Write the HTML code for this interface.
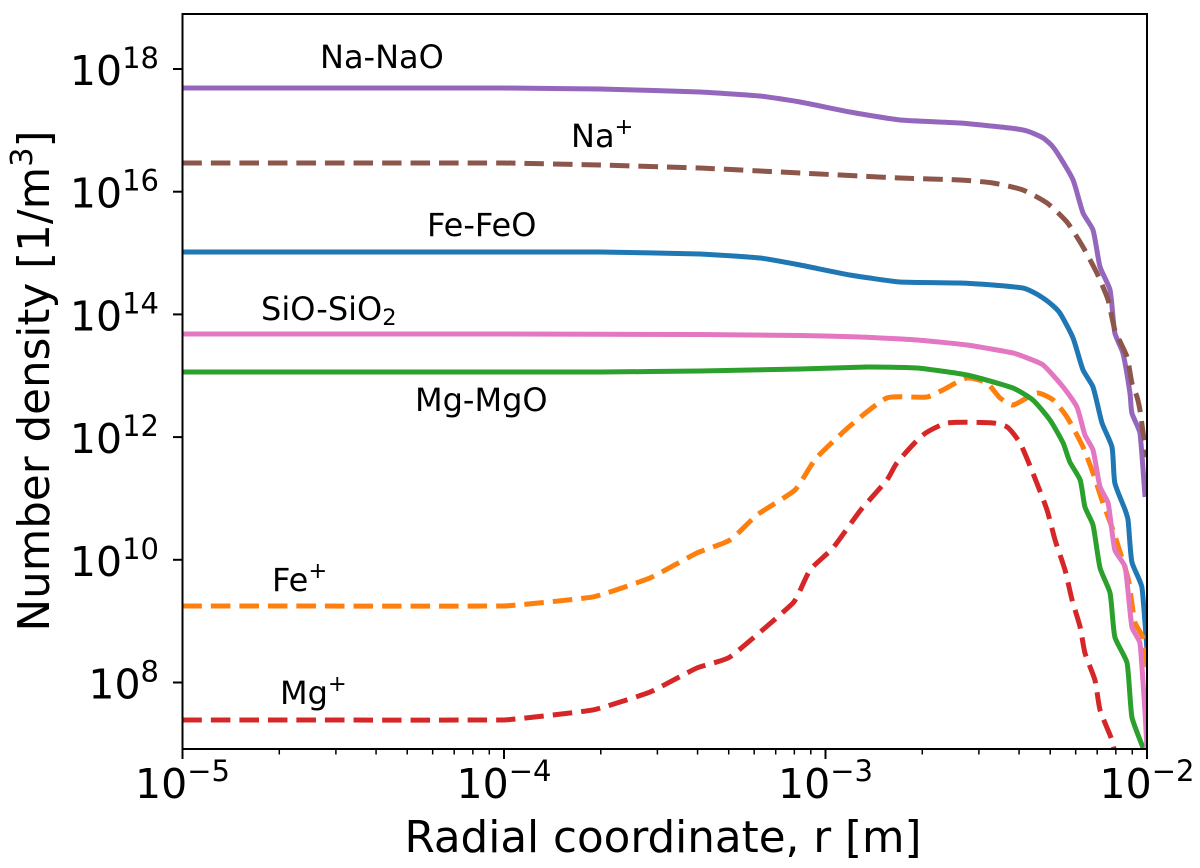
<!DOCTYPE html>
<html lang="en">
<head>
<meta charset="utf-8">
<title>Number density vs radial coordinate</title>
<style>
html,body{margin:0;padding:0;background:#fff;}
body{width:1200px;height:868px;overflow:hidden;}
svg{display:block;}
text{font-family:"DejaVu Sans","Liberation Sans",sans-serif;fill:#000;}
</style>
</head>
<body>
<svg id="chart" xmlns="http://www.w3.org/2000/svg" width="1200" height="868" viewBox="0 0 1200 868">
  <defs><clipPath id="plot-clip"><rect x="182.5" y="14" width="964.5" height="735"/></clipPath></defs>
  <rect x="182.5" y="14" width="964.5" height="735" fill="#fff"/>
  <g id="series" clip-path="url(#plot-clip)"></g>
  <rect x="182.5" y="14" width="964.5" height="735" fill="none" stroke="#000" stroke-width="2"/>
  <g id="ticks"></g>

  <text x="663" y="852" font-size="43.6" text-anchor="middle">Radial coordinate, r [m]</text>
  <text transform="translate(49,381) rotate(-90)" font-size="43.6" text-anchor="middle">Number density [1/m<tspan font-size="30.5" dy="-17">3</tspan><tspan dy="17">]</tspan></text>

  <text x="320" y="68" font-size="32">Na-NaO</text>
  <text x="571" y="147" font-size="32">Na<tspan font-size="22.5" dy="-13">+</tspan></text>
  <text x="427" y="236" font-size="32">Fe-FeO</text>
  <text x="261" y="320" font-size="32">SiO-SiO<tspan font-size="22.5" dy="5">2</tspan></text>
  <text x="415" y="411" font-size="32">Mg-MgO</text>
  <text x="272" y="591" font-size="32">Fe<tspan font-size="22.5" dy="-13">+</tspan></text>
  <text x="280" y="704" font-size="32">Mg<tspan font-size="22.5" dy="-13">+</tspan></text>
</svg>
<script>
// All values are log10: radius r in metres, number density in 1/m^3.
const xTickExponents = [-5, -4, -3, -2];
const xTickLabels = ['\u22125', '\u22124', '\u22123', '\u22122'];
const yTickExponents = [18, 16, 14, 12, 10, 8];
const yTickLabels = ['18', '16', '14', '12', '10', '8'];

const feFeoR = [-5,-4,-3.701,-3.39,-3.204,-3.079,-2.924,-2.768,-2.582,-2.479,-2.386,-2.355,-2.323,-2.295,-2.271,-2.23,-2.199,-2.168,-2.14,-2.109,-2.1,-2.068,-2.059,-2.047,-2.016,-2];
const feFeoN = [15.017,15.017,15.017,14.985,14.919,14.805,14.642,14.528,14.512,14.479,14.43,14.365,14.267,14.153,14.023,13.615,13.094,12.817,12.23,11.839,11.252,10.812,10.649,9.964,9.557,8.53];

const fePlusR = [-5,-4,-3.723,-3.546,-3.4,-3.297,-3.213,-3.095,-3.048,-3.026,-2.924,-2.809,-2.684,-2.635,-2.56,-2.498,-2.457,-2.417,-2.342,-2.292,-2.249,-2.199,-2.168,-2.137,-2.106,-2.059,-2.044,-2.037,-2.012,-2];
const fePlusN = [9.247,9.247,9.394,9.704,10.111,10.323,10.73,11.138,11.513,11.676,12.181,12.637,12.654,12.768,12.963,12.882,12.637,12.523,12.719,12.605,12.328,11.839,11.415,10.926,10.486,9.703,9.182,8.97,8.725,8.253];

const mgMgoR = [-5,-4,-3.701,-3.39,-3.079,-2.871,-2.715,-2.56,-2.417,-2.355,-2.302,-2.261,-2.24,-2.208,-2.193,-2.168,-2.146,-2.115,-2.1,-2.062,-2.047,-2.012];
const mgMgoN = [13.061,13.061,13.061,13.077,13.11,13.143,13.126,13.012,12.8,12.605,12.279,11.904,11.594,11.301,10.861,10.567,9.866,9.459,8.742,8.318,7.438,6.932];

const mgPlusR = [-5,-4,-3.723,-3.546,-3.4,-3.297,-3.101,-3.048,-2.977,-2.893,-2.809,-2.778,-2.697,-2.622,-2.479,-2.435,-2.395,-2.355,-2.311,-2.286,-2.255,-2.233,-2.208,-2.193,-2.162,-2.146,-2.109,-2.1];
const mgPlusN = [7.389,7.389,7.552,7.845,8.236,8.416,9.296,9.834,10.192,10.795,11.301,11.578,12.034,12.23,12.23,12.165,11.904,11.415,10.812,10.323,9.834,9.345,8.905,8.481,8.04,7.551,7.062,6.85];

const naNaoR = [-5,-4,-3.701,-3.39,-3.204,-3.079,-2.924,-2.768,-2.582,-2.426,-2.373,-2.323,-2.295,-2.271,-2.23,-2.199,-2.168,-2.146,-2.115,-2.1,-2.075,-2.053,-2.047,-2.022,-2.006];
const naNaoN = [17.69,17.69,17.674,17.625,17.56,17.462,17.299,17.169,17.12,17.038,16.989,16.875,16.745,16.565,16.191,15.653,15.376,14.773,14.398,13.696,13.371,12.719,12.393,12.067,11.024];

const naPlusR = [-5,-4,-3.701,-3.39,-3.079,-2.768,-2.582,-2.479,-2.386,-2.311,-2.249,-2.199,-2.156,-2.121,-2.1,-2.062,-2.047,-2.031,-2.022,-2.012,-2];
const naPlusN = [16.468,16.468,16.435,16.386,16.305,16.223,16.191,16.142,16.028,15.816,15.506,15.099,14.675,14.235,13.746,13.306,12.882,12.654,12.442,12.067,11.676];

const sioR = [-5,-4,-3.39,-3.079,-2.893,-2.715,-2.56,-2.417,-2.364,-2.323,-2.261,-2.218,-2.193,-2.168,-2.146,-2.121,-2.1,-2.068,-2.047,-2.022,-2.006,-2];
const sioN = [13.68,13.68,13.672,13.656,13.632,13.583,13.501,13.371,13.273,13.175,12.817,12.491,12.034,11.79,11.187,10.926,10.16,9.883,8.905,8.644,7.503,6.9];

const xScale = function (logR) { return 182.5 + (logR + 5) * 321.5; };
const yScale = function (logN) { return 69 + (18 - logN) * 61.35; };

const svgNS = 'http://www.w3.org/2000/svg';
const seriesGroup = document.getElementById('series');
const tickGroup = document.getElementById('ticks');

function unit(a, b) {
  const dx = b[0] - a[0], dy = b[1] - a[1];
  const len = Math.hypot(dx, dy) || 1;
  return [dx / len, dy / len];
}

function pathFrom(rs, ns) {
  const p = rs.map(function (r, i) { return [xScale(r), yScale(ns[i])]; });
  const n = p.length;
  const tan = p.map(function (pt, i) { return unit(p[Math.max(i - 1, 0)], p[Math.min(i + 1, n - 1)]); });
  let d = 'M' + p[0][0].toFixed(2) + ' ' + p[0][1].toFixed(2);
  for (let i = 0; i < n - 1; i++) {
    const b = p[i], c = p[i + 1];
    const h = Math.min(Math.hypot(c[0] - b[0], c[1] - b[1]) * 0.2, 8);
    const nums = [b[0] + tan[i][0] * h, b[1] + tan[i][1] * h, c[0] - tan[i + 1][0] * h, c[1] - tan[i + 1][1] * h, c[0], c[1]];
    d += 'C' + nums.map(function (v) { return v.toFixed(2); }).join(' ');
  }
  return d;
}

function drawSeries(rs, ns, color, dashed, name) {
  const el = document.createElementNS(svgNS, 'path');
  el.setAttribute('d', pathFrom(rs, ns));
  el.setAttribute('fill', 'none');
  el.setAttribute('stroke', color);
  el.setAttribute('stroke-width', '5');
  el.setAttribute('stroke-linejoin', 'round');
  if (dashed) el.setAttribute('stroke-dasharray', '19.5 9');
  
  
  seriesGroup.appendChild(el);
}

drawSeries(feFeoR, feFeoN, '#1f77b4', false, 'line-fe-feo');
drawSeries(fePlusR, fePlusN, '#ff7f0e', true, 'line-fe-plus');
drawSeries(mgMgoR, mgMgoN, '#2ca02c', false, 'line-mg-mgo');
drawSeries(mgPlusR, mgPlusN, '#d62728', true, 'line-mg-plus');
drawSeries(naNaoR, naNaoN, '#9467bd', false, 'line-na-nao');
drawSeries(naPlusR, naPlusN, '#8c564b', true, 'line-na-plus');
drawSeries(sioR, sioN, '#e377c2', false, 'line-sio-sio2');

function addTick(x1, y1, x2, y2, w, name) {
  const t = document.createElementNS(svgNS, 'line');
  t.setAttribute('x1', x1);
  t.setAttribute('y1', y1);
  t.setAttribute('x2', x2);
  t.setAttribute('y2', y2);
  t.setAttribute('stroke', '#000');
  t.setAttribute('stroke-width', w);
  
  
  tickGroup.appendChild(t);
}

function addPowerLabel(x, y, anchor, exponent, name) {
  const t = document.createElementNS(svgNS, 'text');
  t.setAttribute('x', x);
  t.setAttribute('y', y);
  t.setAttribute('font-size', '41');
  t.setAttribute('text-anchor', anchor);
  
  
  t.appendChild(document.createTextNode('10'));
  const s = document.createElementNS(svgNS, 'tspan');
  s.setAttribute('font-size', '29');
  s.setAttribute('dy', '-17');
  s.textContent = exponent;
  t.appendChild(s);
  tickGroup.appendChild(t);
}

xTickExponents.forEach(function (exp, i) {
  const x = xScale(exp);
  addTick(x, 749, x, 759, 2, 'x-major-tick');
  addPowerLabel(x, 798, 'middle', xTickLabels[i], 'x-tick-label');
  if (i < xTickExponents.length - 1) {
    for (let m = 2; m < 10; m++) {
      const mx = xScale(exp + Math.log10(m));
      addTick(mx, 749, mx, 754.5, 1.5, 'x-minor-tick');
    }
  }
});

yTickExponents.forEach(function (exp, i) {
  const y = yScale(exp);
  addTick(173, y, 182.5, y, 2, 'y-major-tick');
  addPowerLabel(159, y + 16, 'end', yTickLabels[i], 'y-tick-label');
});
</script>
</body>
</html>
